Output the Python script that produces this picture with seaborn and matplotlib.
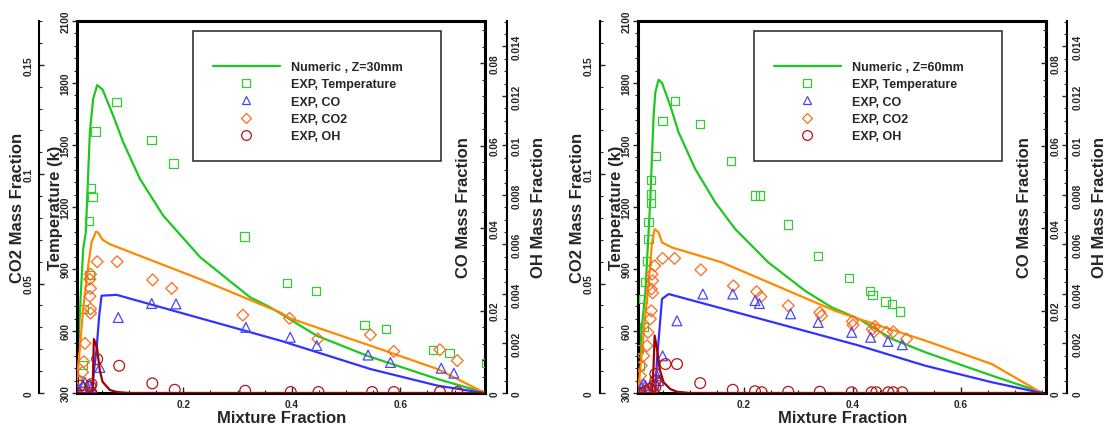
import numpy as np
import matplotlib
matplotlib.use("Agg")
import matplotlib.pyplot as plt
import seaborn as sns
from matplotlib.ticker import MultipleLocator, FuncFormatter
from matplotlib.lines import Line2D
from matplotlib.patches import Rectangle

# ---------------- Z = 30 mm : numeric ----------------
z30_num_T_x = [0.004, 0.0074, 0.0154, 0.0203, 0.0277, 0.0338, 0.0412, 0.0512, 0.0707, 0.0892, 0.12, 0.163, 0.231, 0.323, 0.360, 0.446, 0.539, 0.668, 0.754]
z30_num_T = [300, 595, 997, 1079, 1563, 1723, 1790, 1768, 1642, 1513, 1336, 1158, 957, 763, 715, 577, 480, 368, 303]
z30_num_co2_x = [0.003, 0.0092, 0.0153, 0.0246, 0.0308, 0.0388, 0.043, 0.0512, 0.0646, 0.231, 0.3786, 0.397, 0.545, 0.668, 0.754]
z30_num_co2 = [0.0033, 0.0201, 0.0384, 0.0581, 0.0688, 0.0737, 0.0734, 0.0700, 0.0680, 0.0520, 0.0368, 0.0341, 0.0216, 0.0110, 0.0003]
z30_num_co_x = [0.004, 0.030, 0.0327, 0.0356, 0.0401, 0.0449, 0.0493, 0.077, 0.3786, 0.545, 0.668, 0.754]
z30_num_co = [0.0, 0.0, 0.0010, 0.0058, 0.0107, 0.0187, 0.0236, 0.0238, 0.0127, 0.0058, 0.0018, 0.0]
z30_num_oh_x = [0.004, 0.030, 0.0327, 0.0351, 0.0388, 0.0412, 0.0462, 0.0512, 0.0646, 0.077, 0.10, 0.754]
z30_num_oh = [0.0, 0.0, 0.0001, 0.00218, 0.00198, 0.00178, 0.0009, 0.00045, 0.00012, 0.00004, 0.0, 0.0]

# ---------------- Z = 30 mm : experiment ----------------
z30_exp_T_x = [0.005, 0.014, 0.0165, 0.027, 0.0265, 0.0295, 0.0326, 0.0382, 0.077, 0.1416, 0.1816, 0.3127, 0.391, 0.445, 0.5337, 0.5737, 0.66, 0.6907, 0.7584]
z30_exp_T = [362, 436, 706, 870, 1131, 1292, 1250, 1566, 1707, 1524, 1411, 1058, 831, 792, 629, 610, 508, 492, 444]
z30_exp_co_x = [0.006, 0.0142, 0.0185, 0.0277, 0.0308, 0.0462, 0.080, 0.1416, 0.1865, 0.3152, 0.397, 0.446, 0.5405, 0.5817, 0.6753, 0.6986]
z30_exp_co = [0.0010, 0.0018, 0.0026, 0.0018, 0.0014, 0.0062, 0.0183, 0.0217, 0.0216, 0.0159, 0.0135, 0.0115, 0.0092, 0.0074, 0.0060, 0.0048]
z30_exp_co2_x = [0.003, 0.0061, 0.0142, 0.0166, 0.0185, 0.029, 0.029, 0.0277, 0.029, 0.0277, 0.029, 0.0412, 0.078, 0.1435, 0.1786, 0.3097, 0.3958, 0.448, 0.5448, 0.5878, 0.6727, 0.7049]
z30_exp_co2 = [0.0026, 0.0056, 0.0095, 0.0143, 0.0227, 0.0365, 0.0384, 0.0442, 0.0478, 0.0520, 0.0543, 0.0600, 0.0600, 0.0517, 0.0478, 0.0356, 0.0341, 0.0247, 0.0266, 0.0190, 0.0198, 0.0148]
z30_exp_oh_x = [0.003, 0.0092, 0.029, 0.0308, 0.0308, 0.0412, 0.0818, 0.1428, 0.1841, 0.314, 0.398, 0.449, 0.548, 0.588, 0.673, 0.705]
z30_exp_oh = [0.0, 0.0003, 0.00027, 0.00036, 0.0, 0.00137, 0.0011, 0.00039, 0.00013, 0.00009, 0.00004, 0.00004, 0.00004, 0.00004, 0.00004, 0.00004]

# ---------------- Z = 60 mm : numeric ----------------
z60_num_T_x = [0.0047, 0.0107, 0.0181, 0.0273, 0.0333, 0.0365, 0.0425, 0.0488, 0.0641, 0.0793, 0.11, 0.1468, 0.1835, 0.2447, 0.3123, 0.3611, 0.4119, 0.4732, 0.5344, 0.5956, 0.657, 0.7181, 0.7488]
z60_num_T = [300, 594, 787, 1239, 1642, 1755, 1816, 1800, 1690, 1562, 1384, 1223, 1094, 932, 795, 715, 658, 561, 497, 440, 384, 330, 303]
z60_num_co2_x = [0.0047, 0.015, 0.0242, 0.0304, 0.0352, 0.0425, 0.0488, 0.0672, 0.159, 0.3672, 0.4119, 0.5344, 0.657, 0.7488]
z60_num_co2 = [0.0, 0.0277, 0.0505, 0.0688, 0.0749, 0.0734, 0.0688, 0.0665, 0.0597, 0.0376, 0.0338, 0.0239, 0.0132, 0.0]
z60_num_co_x = [0.0047, 0.0365, 0.0396, 0.0457, 0.0488, 0.061, 0.3672, 0.4119, 0.5344, 0.657, 0.7488]
z60_num_co = [0.0, 0.0, 0.0082, 0.0179, 0.0228, 0.0240, 0.0131, 0.0115, 0.0066, 0.0026, 0.0]
z60_num_oh_x = [0.0047, 0.0304, 0.0333, 0.0352, 0.0396, 0.0444, 0.0518, 0.064, 0.0764, 0.10, 0.7488]
z60_num_oh = [0.0, 0.0, 0.0011, 0.00232, 0.00178, 0.00097, 0.00043, 0.00016, 0.00005, 0.0, 0.0]

# ---------------- Z = 60 mm : experiment ----------------
z60_exp_T_x = [0.0058, 0.0071, 0.015, 0.0132, 0.0169, 0.0212, 0.0242, 0.0242, 0.0285, 0.0285, 0.0291, 0.0377, 0.0499, 0.0732, 0.1192, 0.1756, 0.2202, 0.2294, 0.2815, 0.3366, 0.3935, 0.432, 0.4365, 0.4609, 0.4732, 0.4872]
z60_exp_T = [513, 432, 618, 755, 836, 940, 1045, 1129, 1219, 1260, 1331, 1448, 1615, 1714, 1602, 1424, 1255, 1255, 1116, 963, 856, 795, 774, 742, 731, 695]
z60_exp_co_x = [0.003, 0.0107, 0.015, 0.0181, 0.0333, 0.0396, 0.0425, 0.0499, 0.0763, 0.1241, 0.1792, 0.2202, 0.2282, 0.2858, 0.3366, 0.3984, 0.4334, 0.4652, 0.4916]
z60_exp_co = [0.0002, 0.0014, 0.0022, 0.0018, 0.0018, 0.0042, 0.0030, 0.0090, 0.0175, 0.0240, 0.0240, 0.0224, 0.0217, 0.0192, 0.0171, 0.0147, 0.0135, 0.0125, 0.0117]
z60_exp_co2_x = [0.0058, 0.0089, 0.0107, 0.015, 0.0212, 0.023, 0.0273, 0.0291, 0.0315, 0.0291, 0.0315, 0.0304, 0.0352, 0.0499, 0.072, 0.1204, 0.1804, 0.2233, 0.2312, 0.2815, 0.3397, 0.3428, 0.3997, 0.4009, 0.4365, 0.4413, 0.4395, 0.4628, 0.475, 0.4995]
z60_exp_co2 = [0.0033, 0.0079, 0.0125, 0.0170, 0.0216, 0.0277, 0.0338, 0.0376, 0.0457, 0.0475, 0.0513, 0.0543, 0.0581, 0.0615, 0.0615, 0.0563, 0.0490, 0.0463, 0.0440, 0.0399, 0.0368, 0.0353, 0.0327, 0.0310, 0.0292, 0.0305, 0.0280, 0.0277, 0.0280, 0.0247]
z60_exp_oh_x = [0.003, 0.0089, 0.0169, 0.0254, 0.0273, 0.0334, 0.0365, 0.0365, 0.0365, 0.0551, 0.0764, 0.1192, 0.1792, 0.2202, 0.2325, 0.2815, 0.3397, 0.3984, 0.4352, 0.4438, 0.4659, 0.475, 0.4916]
z60_exp_oh = [0.0, 0.0, 0.00005, 0.00016, 0.00016, 0.0003, 0.0005, 0.00077, 0.00023, 0.00117, 0.00117, 0.0004, 0.00013, 0.00007, 0.00003, 0.00005, 0.00005, 0.00003, 0.00003, 0.00003, 0.00003, 0.00003, 0.00003]

legend_titles = ["Numeric , Z=30mm", "Numeric , Z=60mm"]
legend_exp = ["EXP, Temperature", "EXP, CO", "EXP, CO2", "EXP, OH"]

# ---------------- styling ----------------
sns.set_style("white")
plt.rcParams['font.family'] = ['Liberation Sans', 'DejaVu Sans']
plt.rcParams['font.weight'] = 'bold'
plt.rcParams['axes.labelweight'] = 'bold'

C_T_LINE, C_T_MK = '#1ec81e', '#33cc33'
C_CO2_LINE, C_CO2_MK = '#ff8a00', '#ff6a1a'
C_CO_LINE, C_CO_MK = '#3232ff', '#4646ff'
C_OH_LINE, C_OH_MK = '#a00000', '#b41414'

fmt = FuncFormatter(lambda v, p: ('%g' % round(v, 6)))

fig = plt.figure(figsize=(11.06, 4.31), dpi=100)

AX_W, AX_H = 408 / 1106, 372 / 431
AX_B = 37 / 431


def line(ax, x, y, c):
    sns.lineplot(x=x, y=y, ax=ax, color=c, lw=1.6, sort=False, estimator=None)


def pts(ax, x, y, c, m, s):
    sns.scatterplot(x=x, y=y, ax=ax, marker=m, s=s, facecolor='none',
                    edgecolor=c, linewidth=0.9, zorder=5)


def panel(left_px, num, exp, title):
    ax = fig.add_axes([left_px / 1106, AX_B, AX_W, AX_H])
    ax_co2 = ax.twinx()
    ax_co = ax.twinx()
    ax_oh = ax.twinx()

    line(ax, num[0], num[1], C_T_LINE)
    line(ax_co2, num[2], num[3], C_CO2_LINE)
    line(ax_co, num[4], num[5], C_CO_LINE)
    line(ax_oh, num[6], num[7], C_OH_LINE)
    pts(ax, exp[0], exp[1], C_T_MK, 's', 36)
    pts(ax_co, exp[2], exp[3], C_CO_MK, '^', 50)
    pts(ax_co2, exp[4], exp[5], C_CO2_MK, 'D', 36)
    pts(ax_oh, exp[6], exp[7], C_OH_MK, 'o', 60)

    for a in (ax, ax_co2, ax_co, ax_oh):
        a.set_xlim(0.004, 0.756)
        a.set_ylabel('')
        a.set_xlabel('')
        for sp in a.spines.values():
            sp.set_visible(False)
        a.tick_params(which='major', length=3.6, width=1.0, labelsize=7.3)
        a.tick_params(which='minor', length=1.9, width=0.8)

    # main: temperature
    ax.set_ylim(300, 2100)
    ax.yaxis.set_major_locator(MultipleLocator(300))
    ax.yaxis.set_minor_locator(MultipleLocator(60))
    ax.xaxis.set_major_locator(MultipleLocator(0.2))
    ax.xaxis.set_minor_locator(MultipleLocator(0.05))
    ax.xaxis.set_major_formatter(fmt)
    for k in ('left', 'right', 'top', 'bottom'):
        ax.spines[k].set_visible(True)
        ax.spines[k].set_linewidth(2.2)
        ax.spines[k].set_color('black')
    ax.tick_params(axis='y', which='both', direction='out', left=True, right=False,
                   labelrotation=90, pad=1)
    ax.tick_params(axis='x', which='both', direction='in', bottom=True, top=False, pad=4)
    ax.tick_params(axis='x', which='major', length=4.5)
    for t in ax.get_yticklabels():
        t.set_va('center')

    # CO2 axis (outer left)
    ax_co2.set_ylim(0, 0.17)
    ax_co2.yaxis.tick_left()
    ax_co2.spines['left'].set_visible(True)
    ax_co2.spines['left'].set_position(('outward', 27.4))
    ax_co2.spines['left'].set_linewidth(1.5)
    ax_co2.spines['left'].set_color('black')
    ax_co2.yaxis.set_major_locator(MultipleLocator(0.05))
    ax_co2.yaxis.set_minor_locator(MultipleLocator(0.01))
    ax_co2.yaxis.set_major_formatter(fmt)
    ax_co2.tick_params(axis='y', which='both', direction='in', left=True, right=False,
                       labelleft=True, labelright=False, labelrotation=90, pad=4)

    # CO axis (right, on frame)
    ax_co.set_ylim(0, 0.0902)
    ax_co.yaxis.set_major_locator(MultipleLocator(0.02))
    ax_co.yaxis.set_minor_locator(MultipleLocator(0.004))
    ax_co.yaxis.set_major_formatter(fmt)
    ax_co.tick_params(axis='y', which='both', direction='in', right=True, left=False,
                      labelrotation=90, pad=3.5)

    # OH axis (outer right)
    ax_oh.set_ylim(0, 0.01503)
    ax_oh.spines['right'].set_visible(True)
    ax_oh.spines['right'].set_position(('outward', 15.5))
    ax_oh.spines['right'].set_linewidth(1.5)
    ax_oh.spines['right'].set_color('black')
    ax_oh.yaxis.set_major_locator(MultipleLocator(0.002))
    ax_oh.yaxis.set_minor_locator(MultipleLocator(0.0005))
    ax_oh.yaxis.set_major_formatter(fmt)
    ax_oh.tick_params(axis='y', which='both', direction='in', right=True, left=False,
                      labelrotation=90, pad=4)
    for a in (ax_co2, ax_co, ax_oh):
        for t in a.get_yticklabels():
            t.set_va('center')

    # axis titles
    lab = dict(fontsize=12, fontweight='bold', ha='center', va='center')
    ax.text(0.502, -0.066, 'Mixture Fraction', transform=ax.transAxes, **lab)
    ax.text(-0.0515, 0.5, 'Temperature (k)', transform=ax.transAxes, rotation=90, **lab)
    ax.text(-0.147, 0.5, 'CO2 Mass Fraction', transform=ax.transAxes, rotation=90, **lab)
    ax.text(0.947, 0.5, 'CO Mass Fraction', transform=ax.transAxes, rotation=90, **lab)
    ax.text(1.132, 0.5, 'OH Mass Fraction', transform=ax.transAxes, rotation=90, **lab)

    # legend
    ax_oh.add_patch(Rectangle((0.284, 0.624), 0.608, 0.349, transform=ax_oh.transAxes,
                              fill=True, facecolor='white', edgecolor='#222222', lw=1.1, zorder=8))
    handles = [
        Line2D([], [], color=C_T_LINE, lw=1.6),
        Line2D([], [], ls='none', marker='s', ms=5.2, mfc='none', mec=C_T_MK, mew=0.9),
        Line2D([], [], ls='none', marker='^', ms=6, mfc='none', mec=C_CO_MK, mew=0.9),
        Line2D([], [], ls='none', marker='D', ms=5, mfc='none', mec=C_CO2_MK, mew=0.9),
        Line2D([], [], ls='none', marker='o', ms=7, mfc='none', mec=C_OH_MK, mew=0.9),
    ]
    leg = ax_oh.legend(handles, [title] + legend_exp, loc='upper left',
                       bbox_to_anchor=(0.333, 0.892), frameon=False, borderpad=0,
                       borderaxespad=0, handlelength=5.36, handletextpad=0.9,
                       labelspacing=0.42, prop=dict(size=9, weight='bold'))
    leg.set_zorder(9)
    return ax


panel(77, [z30_num_T_x, z30_num_T, z30_num_co2_x, z30_num_co2, z30_num_co_x, z30_num_co,
           z30_num_oh_x, z30_num_oh],
      [z30_exp_T_x, z30_exp_T, z30_exp_co_x, z30_exp_co, z30_exp_co2_x, z30_exp_co2,
       z30_exp_oh_x, z30_exp_oh], legend_titles[0])
panel(637.7, [z60_num_T_x, z60_num_T, z60_num_co2_x, z60_num_co2, z60_num_co_x, z60_num_co,
              z60_num_oh_x, z60_num_oh],
      [z60_exp_T_x, z60_exp_T, z60_exp_co_x, z60_exp_co, z60_exp_co2_x, z60_exp_co2,
       z60_exp_oh_x, z60_exp_oh], legend_titles[1])

fig.savefig('out.png', dpi=100, facecolor='white')
